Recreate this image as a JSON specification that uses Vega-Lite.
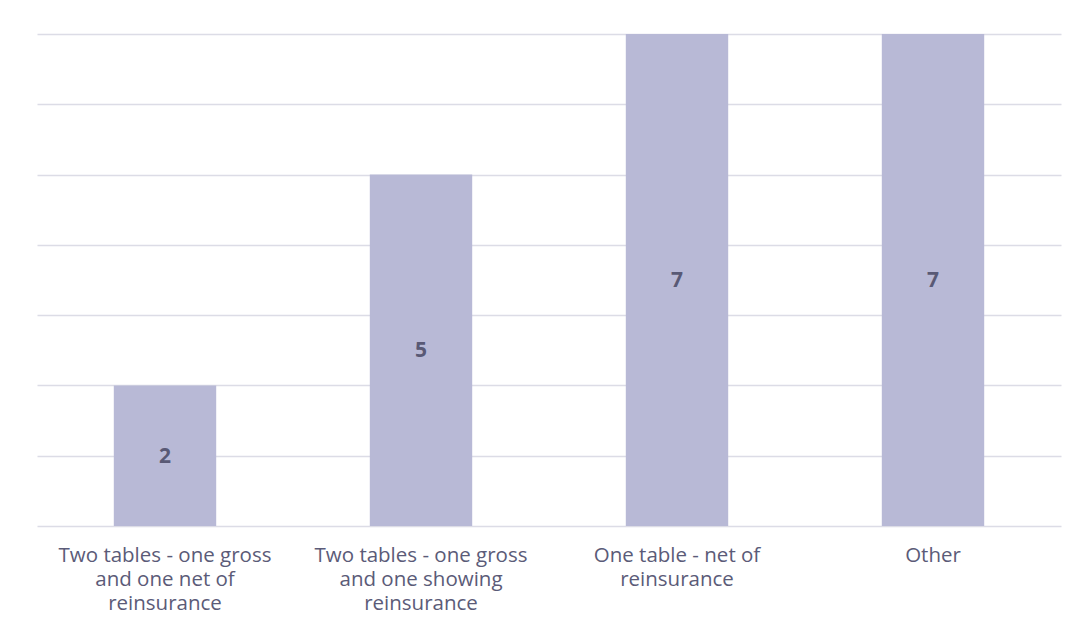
{
  "$schema": "https://vega.github.io/schema/vega-lite/v6.json",
  "width": 1024,
  "height": 492,
  "autosize": {"type": "none"},
  "padding": {"left": 37, "top": 34, "right": 17, "bottom": 117},
  "background": "white",
  "config": {
    "view": {"stroke": null},
    "font": "Open Sans"
  },
  "data": {
    "values": [
      {"category": "Two tables - one gross and one net of reinsurance", "count": 2},
      {"category": "Two tables - one gross and one showing reinsurance", "count": 5},
      {"category": "One table - net of reinsurance", "count": 7},
      {"category": "Other", "count": 7}
    ]
  },
  "encoding": {
    "x": {
      "field": "category",
      "type": "nominal",
      "sort": null,
      "scale": {"paddingInner": 0.6, "paddingOuter": 0.3},
      "axis": {
        "title": null,
        "labelAngle": 0,
        "ticks": false,
        "domain": false,
        "labelFontSize": 20.5,
        "labelColor": "#5b5b78",
        "labelPadding": 19,
        "labelLineHeight": 24,
        "labelBaseline": "top",
        "labelLimit": 0,
        "labelOverlap": false,
        "labelExpr": "datum.value == 'Two tables - one gross and one net of reinsurance' ? ['Two tables - one gross', 'and one net of', 'reinsurance'] : datum.value == 'Two tables - one gross and one showing reinsurance' ? ['Two tables - one gross', 'and one showing', 'reinsurance'] : datum.value == 'One table - net of reinsurance' ? ['One table - net of', 'reinsurance'] : datum.value"
      }
    }
  },
  "layer": [
    {
      "mark": {"type": "bar", "color": "#b8b9d6"},
      "encoding": {
        "y": {
          "field": "count",
          "type": "quantitative",
          "scale": {"domain": [0, 7], "nice": false},
          "axis": {
            "title": null,
            "labels": false,
            "ticks": false,
            "domain": false,
            "tickCount": 7,
            "gridColor": "#dcdce6",
            "gridWidth": 1.5,
            "gridOpacity": 1
          }
        }
      }
    },
    {
      "mark": {"type": "text", "fontSize": 21, "fontWeight": "bold", "color": "#595975", "baseline": "middle", "dy": 1},
      "encoding": {
        "y": {
          "field": "count",
          "type": "quantitative",
          "scale": {"domain": [0, 14], "nice": false},
          "axis": null
        },
        "text": {"field": "count", "type": "quantitative"}
      }
    }
  ],
  "resolve": {"scale": {"y": "independent"}}
}
